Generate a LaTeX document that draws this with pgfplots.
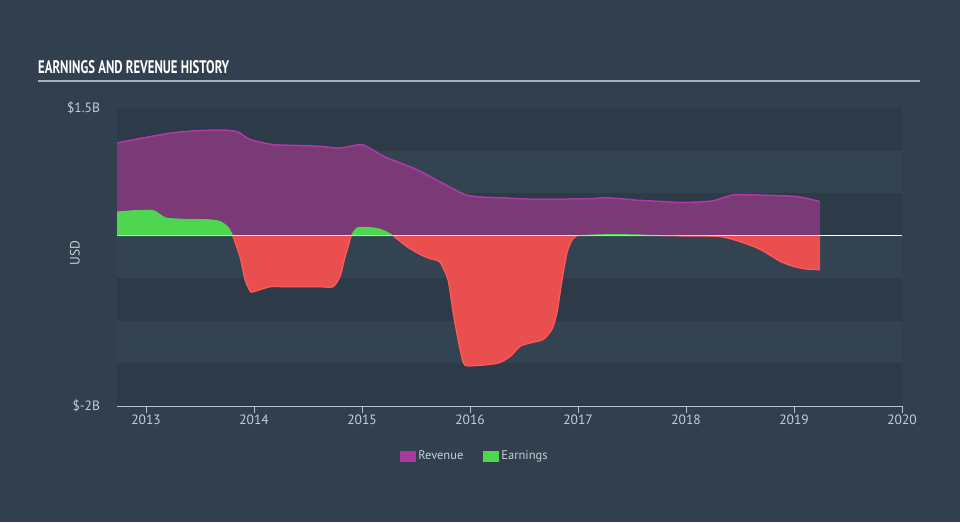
\documentclass[border=0pt]{standalone}
\usepackage{pgfplots}
\pgfplotsset{compat=1.18}
\usepackage{fontspec}
\setmainfont{PT Sans}
\usepackage{graphicx}
\definecolor{bg}{HTML}{323F4E}
\definecolor{bandD}{HTML}{2D3A48}
\definecolor{bandL}{HTML}{344352}
\definecolor{revfill}{HTML}{7A3A76}
\definecolor{revline}{HTML}{AD3BA5}
\definecolor{revleg}{HTML}{A8399F}
\definecolor{grn}{HTML}{4FD651}
\definecolor{redf}{HTML}{EA4F4F}
\definecolor{redl}{HTML}{FF5A5A}
\definecolor{axcol}{HTML}{B7C3CF}
\definecolor{txt}{HTML}{C8CED5}
\definecolor{rule}{HTML}{A9B0B8}
\begin{document}
\begin{tikzpicture}
\fill[bg] (0,0) rectangle (960pt,522pt);
\useasboundingbox (0,0) rectangle (960pt,522pt);
\node[anchor=south west, inner sep=0pt, text=white] at (38pt,448pt) {\resizebox{191pt}{13pt}{\bfseries EARNINGS AND REVENUE HISTORY}};
\draw[rule, line width=1.6pt] (38pt,441pt) -- (920pt,441pt);
\begin{axis}[
  at={(117pt,116pt)}, anchor=south west,
  width=785pt, height=298pt, scale only axis,
  xmin=2012.731, xmax=2020, ymin=-2, ymax=1.5,
  axis x line=bottom, axis y line=left,
  x axis line style={draw=axcol, line width=1pt, -},
  y axis line style={draw=none},
  xtick={2013,2014,2015,2016,2017,2018,2019,2020},
  xticklabels={2013,2014,2015,2016,2017,2018,2019,2020},
  xtick style={draw=axcol, line width=0.8pt},
  major tick length=7pt, xtick align=outside,
  ytick={-2,1.5}, yticklabels={\$-2B,\$1.5B},
  ytick style={draw=none},
  yticklabel style={anchor=east, xshift=-10pt, text=txt, font=\fontsize{13.5}{16}\selectfont},
  xticklabel style={inner sep=2pt, text=txt, font=\fontsize{13.5}{16}\selectfont},
  /pgf/number format/assume math mode=true,
  ylabel={USD},
  ylabel style={at={(axis description cs:-0.0535,0.513)}, anchor=center, text=txt, font=\fontsize{13.5}{16}\selectfont},
  legend style={at={(axis description cs:0.456,-0.168)}, anchor=center, draw=none, fill=none, text=txt,
    font=\fontsize{12.5}{14}\selectfont, legend columns=2,
    /tikz/every even column/.append style={column sep=18pt}},
  legend image code/.code={\fill[#1] (0pt,-5.5pt) rectangle (16pt,5.5pt);},
]
% background bands
\fill[bandD] (axis cs:2012.731,1.0) rectangle (axis cs:2020,1.5);
\fill[bandL] (axis cs:2012.731,0.5) rectangle (axis cs:2020,1.0);
\fill[bandD] (axis cs:2012.731,0.0) rectangle (axis cs:2020,0.5);
\fill[bandL] (axis cs:2012.731,-0.5) rectangle (axis cs:2020,0.0);
\fill[bandD] (axis cs:2012.731,-1.0) rectangle (axis cs:2020,-0.5);
\fill[bandL] (axis cs:2012.731,-1.5) rectangle (axis cs:2020,-1.0);
\fill[bandD] (axis cs:2012.731,-2.0) rectangle (axis cs:2020,-1.5);

\addlegendimage{fill=revleg, draw=none}
\addlegendentry{Revenue}
\addlegendimage{fill=grn, draw=none}
\addlegendentry{Earnings}

% Revenue
\addplot[forget plot, smooth, tension=0.4, draw=none, fill=revfill] coordinates {
(2012.731,1.09) (2012.98,1.15) (2013.25,1.21) (2013.50,1.235) (2013.72,1.24) (2013.85,1.22)
(2013.963,1.13) (2014.176,1.07) (2014.40,1.06) (2014.61,1.05) (2014.79,1.03) (2014.98,1.07)
(2015.04,1.05) (2015.22,0.92) (2015.50,0.78) (2015.80,0.58) (2015.96,0.48) (2016.10,0.455)
(2016.30,0.445) (2016.56,0.43) (2016.83,0.43) (2017.11,0.435) (2017.25,0.445) (2017.39,0.435)
(2017.57,0.415) (2017.80,0.40) (2017.944,0.39) (2018.10,0.395) (2018.25,0.41) (2018.435,0.48)
(2018.60,0.48) (2018.87,0.47) (2019.056,0.455) (2019.241,0.40)} \closedcycle;
\addplot[forget plot, smooth, tension=0.4, draw=revline, line width=1.5pt] coordinates {
(2012.731,1.09) (2012.98,1.15) (2013.25,1.21) (2013.50,1.235) (2013.72,1.24) (2013.85,1.22)
(2013.963,1.13) (2014.176,1.07) (2014.40,1.06) (2014.61,1.05) (2014.79,1.03) (2014.98,1.07)
(2015.04,1.05) (2015.22,0.92) (2015.50,0.78) (2015.80,0.58) (2015.96,0.48) (2016.10,0.455)
(2016.30,0.445) (2016.56,0.43) (2016.83,0.43) (2017.11,0.435) (2017.25,0.445) (2017.39,0.435)
(2017.57,0.415) (2017.80,0.40) (2017.944,0.39) (2018.10,0.395) (2018.25,0.41) (2018.435,0.48)
(2018.60,0.48) (2018.87,0.47) (2019.056,0.455) (2019.241,0.40)};

% zero line
\addplot[forget plot, white, line width=1.2pt] coordinates {(2012.731,0) (2020,0)};

% Earnings positive
\addplot[forget plot, smooth, tension=0.4, draw=grn, line width=0.8pt, fill=grn] coordinates {
(2012.731,0.28) (2012.9,0.295) (2013.0,0.30) (2013.08,0.29) (2013.18,0.21) (2013.315,0.195)
(2013.55,0.19) (2013.68,0.17) (2013.76,0.10) (2013.803,0)} \closedcycle;
\addplot[forget plot, smooth, tension=0.4, draw=grn, line width=0.8pt, fill=grn] coordinates {
(2014.90,0) (2014.95,0.09) (2015.03,0.10) (2015.14,0.085) (2015.22,0.05) (2015.287,0)} \closedcycle;
\addplot[forget plot, smooth, tension=0.4, draw=grn, line width=0.8pt, fill=grn] coordinates {
(2016.991,0) (2017.2,0.012) (2017.5,0.012) (2017.759,0)} \closedcycle;

% Earnings negative
\addplot[forget plot, smooth, tension=0.4, draw=none, fill=redf] coordinates {
(2013.803,0) (2013.870,-0.25) (2013.917,-0.52) (2013.963,-0.65) (2013.991,-0.66) (2014.148,-0.60)
(2014.306,-0.60) (2014.611,-0.60) (2014.731,-0.60) (2014.796,-0.48) (2014.843,-0.25) (2014.90,0)} \closedcycle;
\addplot[forget plot, smooth, tension=0.4, draw=redl, line width=1.2pt] coordinates {
(2013.803,0) (2013.870,-0.25) (2013.917,-0.52) (2013.963,-0.65) (2013.991,-0.66) (2014.148,-0.60)
(2014.306,-0.60) (2014.611,-0.60) (2014.731,-0.60) (2014.796,-0.48) (2014.843,-0.25) (2014.90,0)};
\addplot[forget plot, smooth, tension=0.4, draw=none, fill=redf] coordinates {
(2015.287,0) (2015.417,-0.13) (2015.537,-0.22) (2015.63,-0.27) (2015.72,-0.31) (2015.796,-0.52)
(2015.843,-0.9) (2015.889,-1.22) (2015.935,-1.48) (2015.981,-1.53) (2016.25,-1.50) (2016.37,-1.42)
(2016.463,-1.30) (2016.556,-1.26) (2016.676,-1.22) (2016.759,-1.10) (2016.806,-0.9) (2016.852,-0.52)
(2016.898,-0.2) (2016.944,-0.05) (2016.991,0)} \closedcycle;
\addplot[forget plot, smooth, tension=0.4, draw=redl, line width=1.2pt] coordinates {
(2015.287,0) (2015.417,-0.13) (2015.537,-0.22) (2015.63,-0.27) (2015.72,-0.31) (2015.796,-0.52)
(2015.843,-0.9) (2015.889,-1.22) (2015.935,-1.48) (2015.981,-1.53) (2016.25,-1.50) (2016.37,-1.42)
(2016.463,-1.30) (2016.556,-1.26) (2016.676,-1.22) (2016.759,-1.10) (2016.806,-0.9) (2016.852,-0.52)
(2016.898,-0.2) (2016.944,-0.05) (2016.991,0)};
\addplot[forget plot, smooth, tension=0.4, draw=none, fill=redf] coordinates {
(2017.759,0) (2018.0,-0.003) (2018.315,-0.01) (2018.50,-0.07) (2018.685,-0.16) (2018.87,-0.30)
(2018.991,-0.36) (2019.102,-0.39) (2019.241,-0.40)} \closedcycle;
\addplot[forget plot, smooth, tension=0.4, draw=redl, line width=1.2pt] coordinates {
(2017.759,0) (2018.0,-0.003) (2018.315,-0.01) (2018.50,-0.07) (2018.685,-0.16) (2018.87,-0.30)
(2018.991,-0.36) (2019.102,-0.39) (2019.241,-0.40)};

% zero line over data (tinted)
\addplot[forget plot, color=white, opacity=0.45, line width=1pt] coordinates {(2012.731,0) (2019.241,0)};
\end{axis}
\end{tikzpicture}
\end{document}
